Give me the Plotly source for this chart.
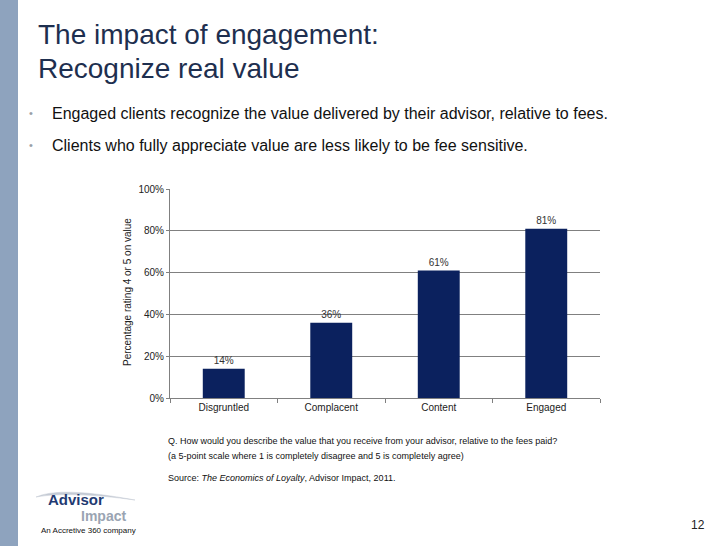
import plotly.graph_objects as go

categories = ["Disgruntled", "Complacent", "Content", "Engaged"]
values = [14, 36, 61, 81]
y_ticks = [0, 20, 40, 60, 80, 100]
y_tick_labels = ["0%", "20%", "40%", "60%", "80%", "100%"]

W, H = 728, 546
L, R, T, B = 170, 600, 189, 398

def px(x):
    return (x - L) / (R - L)

def py(y):
    return (B - y) / (B - T)

FONT = "Liberation Sans, Arial, sans-serif"
NAVY = "#0B215E"

fig = go.Figure()
fig.add_trace(go.Bar(
    x=categories, y=values,
    marker=dict(color=NAVY, line=dict(width=0)),
    width=0.39,
    text=[f"{v}%" for v in values],
    textposition="outside",
    textfont=dict(family=FONT, size=10, color="#333333"),
    cliponaxis=False,
))

annotations = [
    dict(text="The impact of engagement:", x=px(36), y=py(35), xanchor="left", yanchor="middle",
         font=dict(family=FONT, size=28, color="#1E2F4F")),
    dict(text="Recognize real value", x=px(36), y=py(68), xanchor="left", yanchor="middle",
         font=dict(family=FONT, size=28, color="#1E2F4F")),
    dict(text="•", x=px(27), y=py(113), xanchor="left", yanchor="middle",
         font=dict(family=FONT, size=11, color="#9AA0A8")),
    dict(text="Engaged clients recognize the value delivered by their advisor, relative to fees.",
         x=px(50), y=py(113), xanchor="left", yanchor="middle",
         font=dict(family=FONT, size=16, color="#111111")),
    dict(text="•", x=px(27), y=py(145), xanchor="left", yanchor="middle",
         font=dict(family=FONT, size=11, color="#9AA0A8")),
    dict(text="Clients who fully appreciate value are less likely to be fee sensitive.",
         x=px(50), y=py(145), xanchor="left", yanchor="middle",
         font=dict(family=FONT, size=16, color="#111111")),
    dict(text="Percentage rating 4 or 5 on value", x=px(127), y=py(292), textangle=-90,
         xanchor="center", yanchor="middle",
         font=dict(family=FONT, size=10, color="#222222")),
    dict(text="Q. How would you describe the value that you receive from your advisor, relative to the fees paid?",
         x=px(166), y=py(441), xanchor="left", yanchor="middle",
         font=dict(family=FONT, size=9, color="#111111")),
    dict(text="(a 5-point scale where 1 is completely disagree and 5 is completely agree)",
         x=px(166), y=py(456), xanchor="left", yanchor="middle",
         font=dict(family=FONT, size=9, color="#111111")),
    dict(text="Source: <i>The Economics of Loyalty</i>, Advisor Impact, 2011.",
         x=px(166), y=py(478), xanchor="left", yanchor="middle",
         font=dict(family=FONT, size=9, color="#111111")),
    dict(text="<b>Advisor</b>", x=px(46), y=py(499), xanchor="left", yanchor="middle",
         font=dict(family=FONT, size=15, color="#1F3A72")),
    dict(text="<b>Impact</b>", x=px(79), y=py(516), xanchor="left", yanchor="middle",
         font=dict(family=FONT, size=14, color="#9AA4B2")),
    dict(text="An Accretive 360 company", x=px(39), y=py(530), xanchor="left", yanchor="middle",
         font=dict(family=FONT, size=8, color="#111111")),
    dict(text="12", x=px(707), y=py(525), xanchor="right", yanchor="middle",
         font=dict(family=FONT, size=12, color="#222222")),
]
for a in annotations:
    a.update(xref="paper", yref="paper", showarrow=False)

shapes = [
    dict(type="rect", xref="paper", yref="paper", x0=px(0), x1=px(18), y0=py(0), y1=py(546),
         fillcolor="#8EA3BE", line=dict(width=0), layer="below"),
    dict(type="path", xref="paper", yref="paper",
         path=f"M {px(36)},{py(497)} Q {px(60)},{py(486)} {px(135)},{py(500)} Q {px(70)},{py(491)} {px(36)},{py(497)} Z",
         fillcolor="#C4CAD4", line=dict(width=0.5, color="#C4CAD4"), layer="below"),
]

fig.update_layout(
    width=W, height=H,
    margin=dict(l=L, r=W - R, t=T, b=H - B, pad=0),
    paper_bgcolor="white", plot_bgcolor="white",
    showlegend=False,
    annotations=annotations,
    shapes=shapes,
    bargap=0.61,
    xaxis=dict(
        showline=True, linecolor="#808080", linewidth=1,
        ticks="outside", ticklen=4, tickcolor="#808080", tickson="boundaries",
        tickfont=dict(family=FONT, size=10, color="#222222"),
        showgrid=False,
    ),
    yaxis=dict(
        range=[0, 100], tickvals=y_ticks, ticktext=y_tick_labels,
        showline=True, linecolor="#808080", linewidth=1,
        ticks="outside", ticklen=3, tickcolor="#808080",
        showgrid=True, gridcolor="#808080", gridwidth=1,
        tickfont=dict(family=FONT, size=10, color="#222222"),
        zeroline=False,
    ),
)

fig.write_html("out.html", config={"displayModeBar": False},
               post_script="document.body.style.margin='0';document.body.style.padding='0';document.body.style.overflow='hidden';")
